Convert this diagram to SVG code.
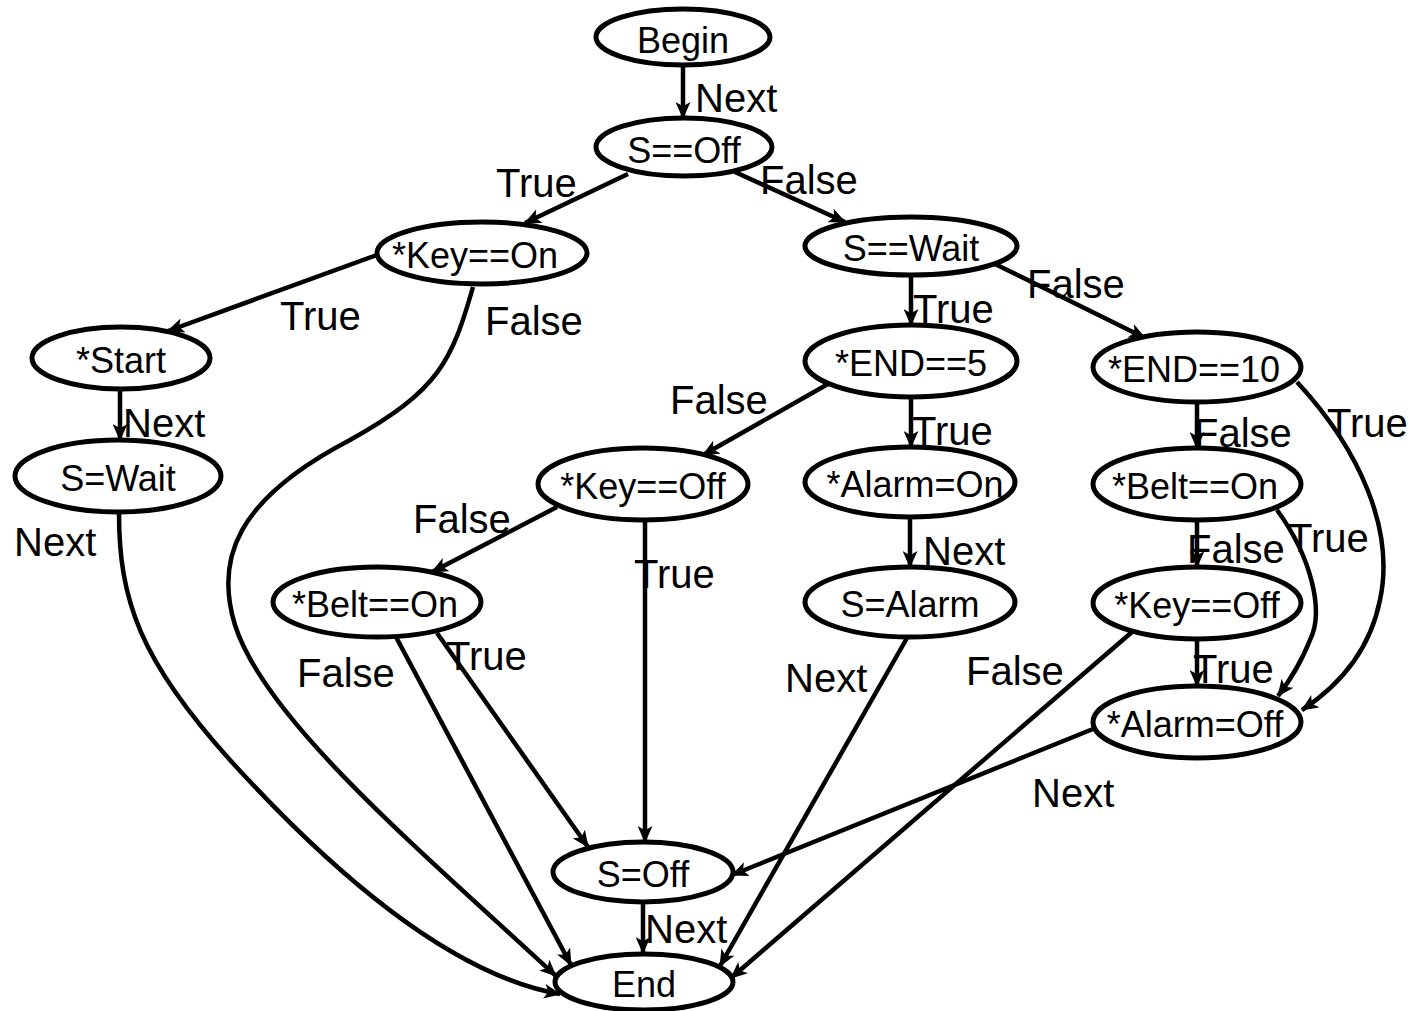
<svg xmlns="http://www.w3.org/2000/svg" width="1412" height="1011" viewBox="0 0 1412 1011">
<defs>
<style>
.node ellipse{fill:#fff;stroke:#000;stroke-width:5}
.node text{font-family:"Liberation Sans",Arial,sans-serif;font-size:36px;fill:#000;text-anchor:middle}
.edge{fill:none;stroke:#000;stroke-width:4.5;marker-end:url(#arr)}
.lbl{font-family:"Liberation Sans",Arial,sans-serif;font-size:40px;fill:#000}
</style>
<marker id="arr" viewBox="0 0 16 14" refX="15" refY="7" markerWidth="17" markerHeight="15" markerUnits="userSpaceOnUse" orient="auto">
<path d="M0,0 L16,7 L0,14 L4,7 z" fill="#000"/>
</marker>
</defs>
<rect width="1412" height="1011" fill="#fff"/>
<g id="connectors">
<path class="edge" d="M683,65 L683,118"/>
<path class="edge" d="M628,174 L525,223"/>
<path class="edge" d="M735,172 L845,222"/>
<path class="edge" d="M377,255 L168,331"/>
<path class="edge" d="M473,287 C452,360 440,390 350,440 C235,500 215,560 235,625 C265,720 420,850 556,976"/>
<path class="edge" d="M120,390 L120,440"/>
<path class="edge" d="M119,513 C119,600 140,660 230,760 C330,870 450,975 560,994"/>
<path class="edge" d="M911,275 L911,325"/>
<path class="edge" d="M995,264 L1145,338"/>
<path class="edge" d="M828,384 L703,455"/>
<path class="edge" d="M911,397 L911,447"/>
<path class="edge" d="M910,518 L910,567"/>
<path class="edge" d="M557,507 L432,572"/>
<path class="edge" d="M645,520 L645,842"/>
<path class="edge" d="M396,637 L571,965"/>
<path class="edge" d="M437,633 L588,847"/>
<path class="edge" d="M907,638 L720,966"/>
<path class="edge" d="M1197,402 L1197,448"/>
<path class="edge" d="M1197,520 L1197,567"/>
<path class="edge" d="M1197,640 L1197,686"/>
<path class="edge" d="M1297,382 C1360,450 1395,530 1380,600 C1370,650 1340,685 1302,710"/>
<path class="edge" d="M1277,510 C1310,555 1325,610 1310,640 C1300,665 1290,680 1278,696"/>
<path class="edge" d="M1132,632 L731,978"/>
<path class="edge" d="M1093,729 L732,875"/>
<path class="edge" d="M643,902 L643,953"/>
<g id="edge-labels">
<text class="lbl" x="695" y="112">Next</text>
<text class="lbl" x="496" y="197">True</text>
<text class="lbl" x="760" y="194">False</text>
<text class="lbl" x="280" y="330">True</text>
<text class="lbl" x="485" y="335">False</text>
<text class="lbl" x="123" y="437">Next</text>
<text class="lbl" x="14" y="556">Next</text>
<text class="lbl" x="913" y="323">True</text>
<text class="lbl" x="1027" y="298">False</text>
<text class="lbl" x="670" y="414">False</text>
<text class="lbl" x="912" y="445">True</text>
<text class="lbl" x="1327" y="437">True</text>
<text class="lbl" x="1194" y="447">False</text>
<text class="lbl" x="413" y="533">False</text>
<text class="lbl" x="634" y="588">True</text>
<text class="lbl" x="923" y="565">Next</text>
<text class="lbl" x="1288" y="552">True</text>
<text class="lbl" x="1187" y="563">False</text>
<text class="lbl" x="1193" y="683">True</text>
<text class="lbl" x="297" y="687">False</text>
<text class="lbl" x="446" y="670">True</text>
<text class="lbl" x="785" y="692">Next</text>
<text class="lbl" x="966" y="685">False</text>
<text class="lbl" x="1032" y="807">Next</text>
<text class="lbl" x="645" y="943">Next</text>
</g>
</g>
<g id="n_begin" class="node"><ellipse cx="683" cy="37" rx="87" ry="28"/><text x="683" y="53">Begin</text></g>
<g id="n_soff_test" class="node"><ellipse cx="684" cy="147" rx="88" ry="29"/><text x="684" y="163">S==Off</text></g>
<g id="n_keyon" class="node"><ellipse cx="482" cy="253" rx="105" ry="31"/><text x="475" y="268">*Key==On</text></g>
<g id="n_swait_test" class="node"><ellipse cx="911" cy="246" rx="106" ry="29"/><text x="911" y="261">S==Wait</text></g>
<g id="n_start" class="node"><ellipse cx="121" cy="358" rx="89" ry="31"/><text x="121" y="373">*Start</text></g>
<g id="n_swait" class="node"><ellipse cx="118" cy="476" rx="103" ry="36"/><text x="118" y="491">S=Wait</text></g>
<g id="n_end5" class="node"><ellipse cx="911" cy="361" rx="106" ry="36"/><text x="911" y="376">*END==5</text></g>
<g id="n_end10" class="node"><ellipse cx="1197" cy="367" rx="104" ry="35"/><text x="1194" y="382">*END==10</text></g>
<g id="n_keyoff1" class="node"><ellipse cx="643" cy="484" rx="105" ry="36"/><text x="643" y="499">*Key==Off</text></g>
<g id="n_alarmon" class="node"><ellipse cx="910" cy="482" rx="105" ry="35"/><text x="915" y="497">*Alarm=On</text></g>
<g id="n_belton2" class="node"><ellipse cx="1197" cy="484" rx="104" ry="36"/><text x="1195" y="499">*Belt==On</text></g>
<g id="n_belton1" class="node"><ellipse cx="377" cy="602" rx="104" ry="35"/><text x="375" y="617">*Belt==On</text></g>
<g id="n_salarm" class="node"><ellipse cx="910" cy="602" rx="105" ry="35"/><text x="910" y="617">S=Alarm</text></g>
<g id="n_keyoff2" class="node"><ellipse cx="1197" cy="603" rx="104" ry="36"/><text x="1197" y="618">*Key==Off</text></g>
<g id="n_alarmoff" class="node"><ellipse cx="1197" cy="722" rx="104" ry="36"/><text x="1195" y="737">*Alarm=Off</text></g>
<g id="n_soff" class="node"><ellipse cx="643" cy="872" rx="90" ry="30"/><text x="643" y="887">S=Off</text></g>
<g id="n_end" class="node"><ellipse cx="644" cy="982" rx="89" ry="28"/><text x="644" y="997">End</text></g>
</svg>
